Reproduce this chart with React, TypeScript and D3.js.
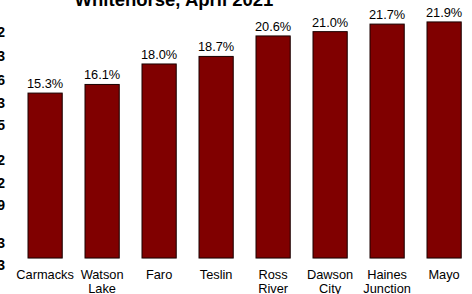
import { useMemo } from "react";
import * as d3 from "d3";

// Communities and their share (%) for Whitehorse, April 2021
const CATEGORIES = [
  "Carmacks",
  "Watson Lake",
  "Faro",
  "Teslin",
  "Ross River",
  "Dawson City",
  "Haines Junction",
  "Mayo",
];
const VALUES = [15.3, 16.1, 18.0, 18.7, 20.6, 21.0, 21.7, 21.9];
const TITLE = "Whitehorse, April 2021";

// clipped glyphs of the neighbouring panel on the left edge
const EDGE_DIGITS = ["2", "3", "6", "3", "5", "2", "2", "9", "3", "3"];
const EDGE_BASELINES = [37, 61, 85, 108, 130, 165, 188, 210, 248, 270];

const WIDTH = 472;
const HEIGHT = 294;
const FONT = "Arial, 'Liberation Sans', Helvetica, sans-serif";

export default function App() {
  const x = useMemo(
    () =>
      d3
        .scaleBand<string>()
        .domain(CATEGORIES)
        .range([16.6, 472.6])
        .paddingInner(0.4)
        .paddingOuter(0.2),
    []
  );

  const y = useMemo(
    () => d3.scaleLinear().domain([0, 24]).range([258, -0.7]),
    []
  );

  const fmt = d3.format(".1f");

  return (
    <svg
      width={WIDTH}
      height={HEIGHT}
      style={{ position: "absolute", left: 0, top: 0, background: "#fff" }}
      fontFamily={FONT}
    >
      {/* title, cut at the top */}
      <text
        x={174}
        y={6}
        textAnchor="middle"
        fontSize={18.5}
        fontWeight="bold"
        fill="#000"
      >
        {TITLE}
      </text>

      {/* left edge leftovers */}
      {EDGE_DIGITS.map((d, i) => (
        <text
          key={i}
          x={5}
          y={EDGE_BASELINES[i]}
          textAnchor="end"
          fontSize={14}
          fontWeight="bold"
          fill="#000"
        >
          {d}
        </text>
      ))}

      {/* bars */}
      {CATEGORIES.map((c, i) => {
        const bx = x(c) || 0;
        const top = y(VALUES[i]);
        return (
          <g key={c}>
            <rect
              x={bx + 0.5}
              y={top + 0.5}
              width={x.bandwidth()}
              height={y(0) - top}
              fill="#c8c8c8"
            />
            <rect
              x={bx}
              y={top}
              width={x.bandwidth()}
              height={y(0) - top}
              fill="#800000"
              stroke="#1a0000"
              strokeWidth={1}
            />
            <text
              x={bx + x.bandwidth() / 2}
              y={top - 5}
              textAnchor="middle"
              fontSize={12.8}
              fill="#000"
            >
              {fmt(VALUES[i])}%
            </text>
          </g>
        );
      })}

      {/* category labels */}
      {CATEGORIES.map((c) => {
        const words = c.split(" ");
        const cx = (x(c) || 0) + x.bandwidth() / 2;
        return (
          <text key={c} textAnchor="middle" fontSize={12.8} fill="#000">
            {words.map((w, j) => (
              <tspan key={j} x={cx} y={279 + j * 13.5}>
                {w}
              </tspan>
            ))}
          </text>
        );
      })}
    </svg>
  );
}
